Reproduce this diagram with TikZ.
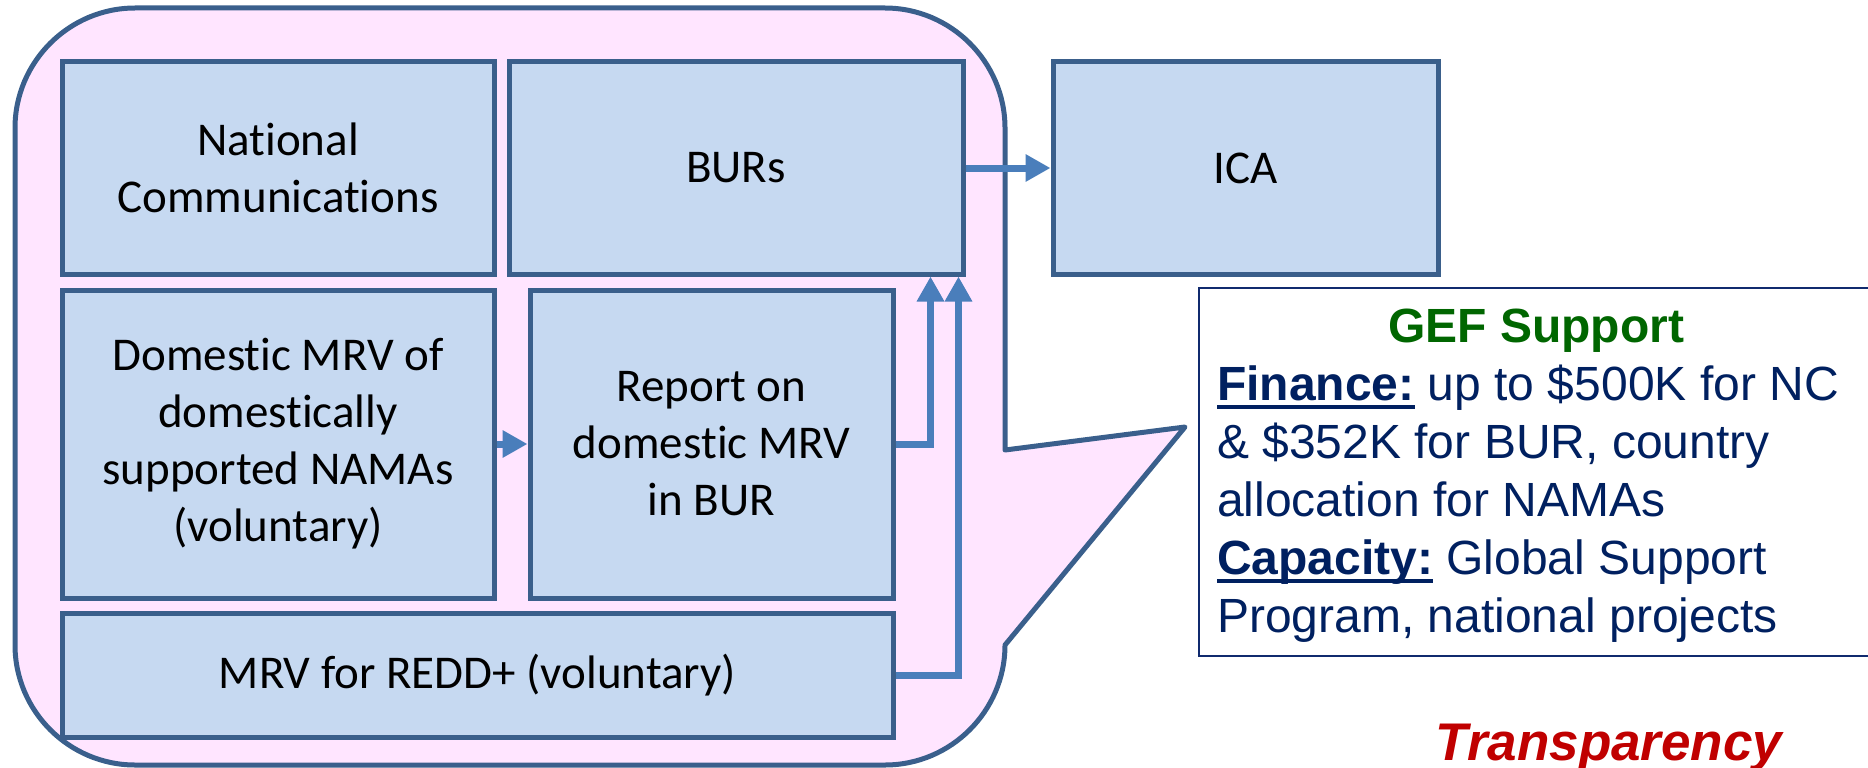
\documentclass[tikz,border=0pt]{standalone}
\usepackage{fontspec}
\setmainfont{Carlito}[Ligatures=NoCommon]
\newfontfamily\arialf{Liberation Sans}
\usetikzlibrary{arrows.meta}
\definecolor{boxfill}{HTML}{C6D9F1}
\definecolor{boxdraw}{HTML}{3A5F8B}
\definecolor{bubblefill}{HTML}{FFE5FF}
\definecolor{bubbledraw}{HTML}{3A5F8C}
\definecolor{arrowc}{HTML}{4A7EBB}
\definecolor{navytext}{HTML}{002060}
\definecolor{gefdraw}{HTML}{102A6E}
\definecolor{gefgreen}{HTML}{006600}
\definecolor{transred}{HTML}{C00000}
\newcommand\myul[1]{\setbox0\hbox{#1}\rlap{\rule[-9pt]{\wd0}{4pt}}\box0}
\begin{document}
\begin{tikzpicture}[x=1pt,y=-1pt,
  box/.style={draw=boxdraw, fill=boxfill, line width=5pt, inner sep=0pt, align=center,
    font=\fontsize{47}{57}\selectfont},
  arr/.style={draw=arrowc, line width=7pt, -{Triangle[length=25pt,width=26pt]}},
  bubble/.style={draw=bubbledraw, fill=bubblefill, line width=5pt, line join=round},
  geftext/.style={anchor=base west, inner sep=0pt, text=navytext,
    font=\arialf\fontsize{48}{58}\selectfont}]
\useasboundingbox (0,0) rectangle (1868,768);
% callout bubble
\draw[bubble] (1005,450) -- (1005,128) .. controls (1005,62) and (951,8) .. (885,8)
  -- (135,8) .. controls (69,8) and (15,62) .. (15,128)
  -- (15,645) .. controls (15,711) and (69,765) .. (135,765)
  -- (885,765) .. controls (951,765) and (1005,711) .. (1005,645)
  -- (1185,427) -- cycle;
% boxes
\node[box, minimum width=432pt, minimum height=212pt] (nc) at (278,168) {National\\Communications};
\node[box, minimum width=454pt, minimum height=212pt] (burs) at (736,168) {BURs};
\node[box, minimum width=385pt, minimum height=212pt] (ica) at (1245.5,168) {ICA};
\node[box, minimum width=432pt, minimum height=308pt] (dom) at (278,444) {Domestic MRV of\\domestically\\supported NAMAs\\(voluntary)};
\node[box, minimum width=363pt, minimum height=308pt] (rep) at (711.5,444) {Report on\\domestic MRV\\in BUR};
\node[box, minimum width=831pt, minimum height=124pt] (redd) at (477.5,675) {MRV for REDD+ (voluntary)};
% arrows
\draw[arr] (burs.east) -- (ica.west);
\draw[arr] (dom.east) -- (rep.west);
\draw[arr] (rep.east) -| ([xshift=-35pt]burs.south east);
\draw[arr] (redd.east) -| ([xshift=-7pt]burs.south east);
% GEF box
\node[draw=gefdraw, fill=white, line width=2.5pt, inner sep=0pt,
  minimum width=681pt, minimum height=368pt] (gef) at (1539.5,472) {};
\node[anchor=base, inner sep=0pt, text=gefgreen, font=\arialf\bfseries\fontsize{48}{58}\selectfont]
  (gefh) at (1536,342) {GEF Support};
\node[geftext] (l1) at (1217,400) {\textbf{\myul{Finance:}} up to \$500K for NC};
\node[geftext] (l2) at (1217,458) {\& \$352K for BUR, country};
\node[geftext] (l3) at (1217,516) {allocation for NAMAs};
\node[geftext] (l4) at (1217,574) {\textbf{\myul{Capacity:}} Global Support};
\node[geftext] (l5) at (1217,632) {Program, national projects};
% Transparency
\node[anchor=base, inner sep=0pt, text=transred, font=\arialf\bfseries\itshape\fontsize{53}{60}\selectfont]
  (tr) at (1609,760) {Transparency};
\end{tikzpicture}
\end{document}
